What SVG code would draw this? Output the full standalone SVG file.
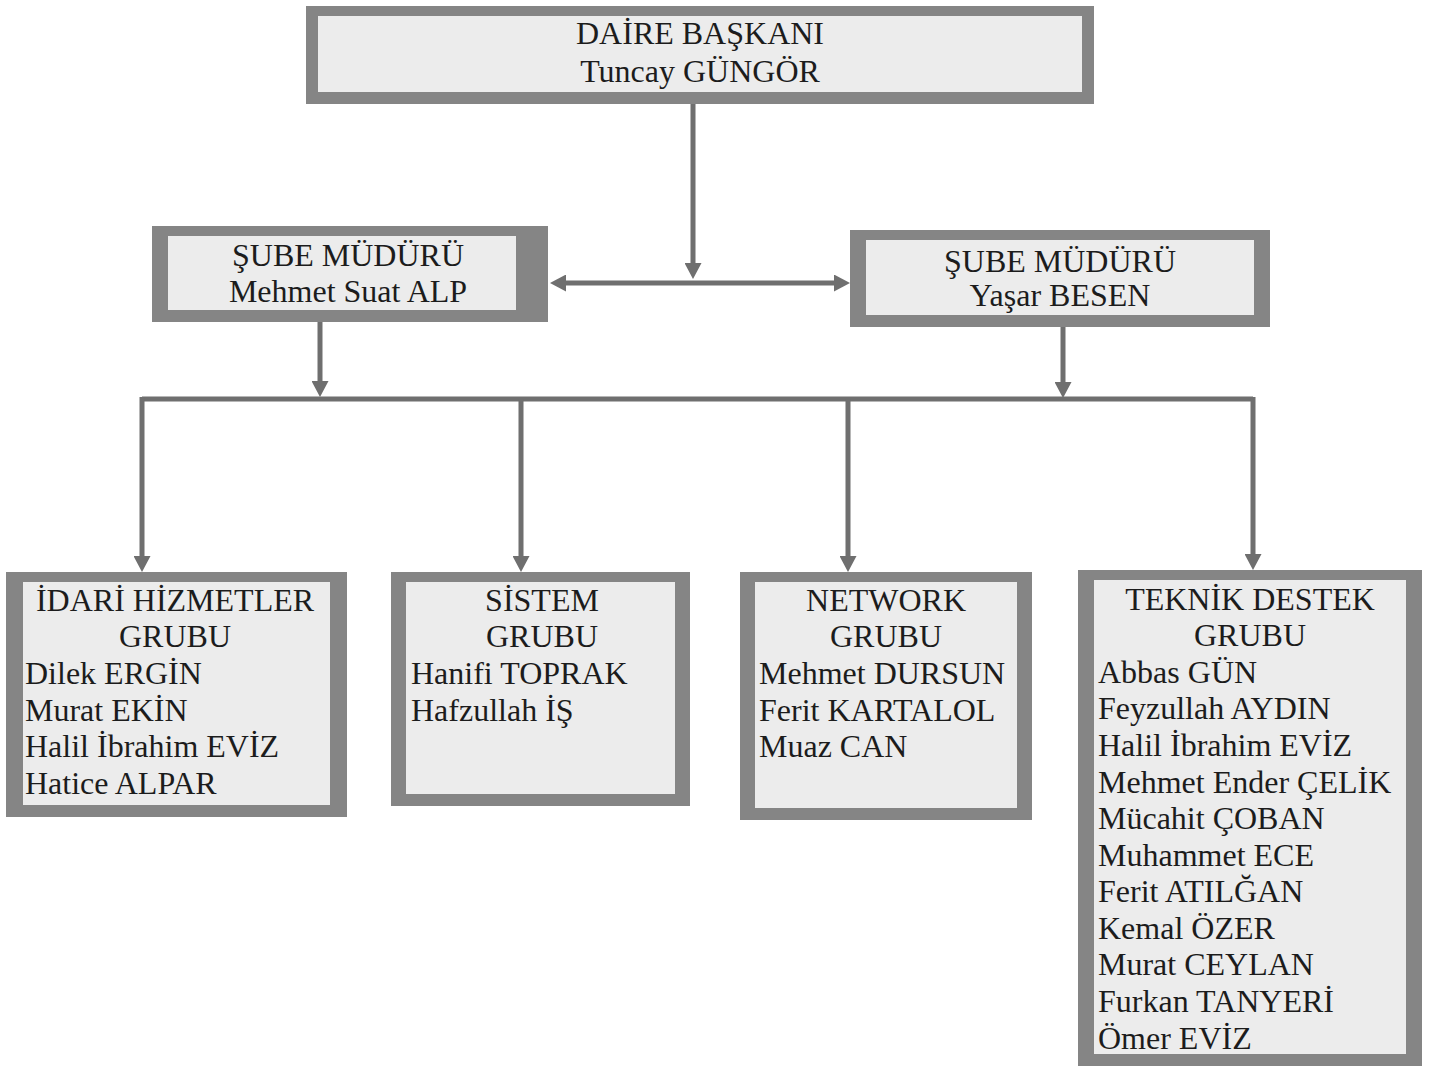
<svg xmlns="http://www.w3.org/2000/svg" width="1436" height="1068" viewBox="0 0 1436 1068">
<style>
.frame{fill:#858585}
.inner{fill:#ececec}
.t{font-family:"Liberation Serif","Times New Roman",serif;font-size:32px;fill:#1c1c1c}
.c{text-anchor:middle}
.ln{stroke:#6f6f6f;stroke-width:5;fill:none}
</style>
<defs>
<marker id="ah" markerUnits="userSpaceOnUse" markerWidth="16" markerHeight="17" viewBox="0 0 16 17" refX="7" refY="8.5" orient="auto-start-reverse">
<path d="M0,0 L16,8.5 L0,17 z" fill="#6f6f6f"/>
</marker>
</defs>
<rect width="1436" height="1068" fill="#ffffff"/>

<g id="connectors">
<line class="ln" x1="693" y1="104" x2="693" y2="270" marker-end="url(#ah)"/>
<line class="ln" x1="559" y1="283" x2="841" y2="283" marker-start="url(#ah)" marker-end="url(#ah)"/>
<line class="ln" x1="320" y1="322" x2="320" y2="388" marker-end="url(#ah)"/>
<line class="ln" x1="1063" y1="327" x2="1063" y2="389" marker-end="url(#ah)"/>
<path class="ln" d="M142,399 H1253"/>
<line class="ln" x1="142" y1="397" x2="142" y2="563" marker-end="url(#ah)"/>
<line class="ln" x1="521" y1="399" x2="521" y2="563" marker-end="url(#ah)"/>
<line class="ln" x1="848" y1="399" x2="848" y2="563" marker-end="url(#ah)"/>
<line class="ln" x1="1253" y1="397" x2="1253" y2="561" marker-end="url(#ah)"/>
</g>

<g id="daire-baskani">
<rect class="frame" x="306" y="6" width="788" height="98"/>
<rect class="inner" x="318" y="16" width="764" height="76"/>
<text class="t c" x="700" y="44">DAİRE BAŞKANI</text>
<text class="t c" x="700" y="82">Tuncay GÜNGÖR</text>
</g>

<g id="sube-muduru-1">
<rect class="frame" x="152" y="226" width="396" height="96"/>
<rect class="inner" x="168" y="236" width="348" height="74"/>
<text class="t c" x="348" y="266">ŞUBE MÜDÜRÜ</text>
<text class="t c" x="348" y="302">Mehmet Suat ALP</text>
</g>

<g id="sube-muduru-2">
<rect class="frame" x="850" y="230" width="420" height="97"/>
<rect class="inner" x="866" y="240" width="388" height="75"/>
<text class="t c" x="1060" y="272">ŞUBE MÜDÜRÜ</text>
<text class="t c" x="1060" y="306">Yaşar BESEN</text>
</g>

<g id="idari-hizmetler">
<rect class="frame" x="6" y="572" width="341" height="245"/>
<rect class="inner" x="23" y="582" width="307" height="223"/>
<text class="t c" x="175" y="611">İDARİ HİZMETLER</text>
<text class="t c" x="175" y="647">GRUBU</text>
<text class="t" x="25" y="684">Dilek ERGİN</text>
<text class="t" x="25" y="721">Murat EKİN</text>
<text class="t" x="25" y="757">Halil İbrahim EVİZ</text>
<text class="t" x="25" y="794">Hatice ALPAR</text>
</g>

<g id="sistem">
<rect class="frame" x="391" y="572" width="299" height="234"/>
<rect class="inner" x="406" y="582" width="269" height="212"/>
<text class="t c" x="542" y="611">SİSTEM</text>
<text class="t c" x="542" y="647">GRUBU</text>
<text class="t" x="411" y="684">Hanifi TOPRAK</text>
<text class="t" x="411" y="721">Hafzullah İŞ</text>
</g>

<g id="network">
<rect class="frame" x="740" y="572" width="292" height="248"/>
<rect class="inner" x="755" y="582" width="262" height="226"/>
<text class="t c" x="886" y="611">NETWORK</text>
<text class="t c" x="886" y="647">GRUBU</text>
<text class="t" x="759" y="684">Mehmet DURSUN</text>
<text class="t" x="759" y="721">Ferit KARTALOL</text>
<text class="t" x="759" y="757">Muaz CAN</text>
</g>

<g id="teknik-destek">
<rect class="frame" x="1078" y="570" width="344" height="496"/>
<rect class="inner" x="1094" y="580" width="312" height="474"/>
<text class="t c" x="1250" y="610">TEKNİK DESTEK</text>
<text class="t c" x="1250" y="646">GRUBU</text>
<text class="t" x="1098" y="683">Abbas GÜN</text>
<text class="t" x="1098" y="719">Feyzullah AYDIN</text>
<text class="t" x="1098" y="756">Halil İbrahim EVİZ</text>
<text class="t" x="1098" y="793">Mehmet Ender ÇELİK</text>
<text class="t" x="1098" y="829">Mücahit ÇOBAN</text>
<text class="t" x="1098" y="866">Muhammet ECE</text>
<text class="t" x="1098" y="902">Ferit ATILĞAN</text>
<text class="t" x="1098" y="939">Kemal ÖZER</text>
<text class="t" x="1098" y="975">Murat CEYLAN</text>
<text class="t" x="1098" y="1012">Furkan TANYERİ</text>
<text class="t" x="1098" y="1049">Ömer EVİZ</text>
</g>
</svg>
